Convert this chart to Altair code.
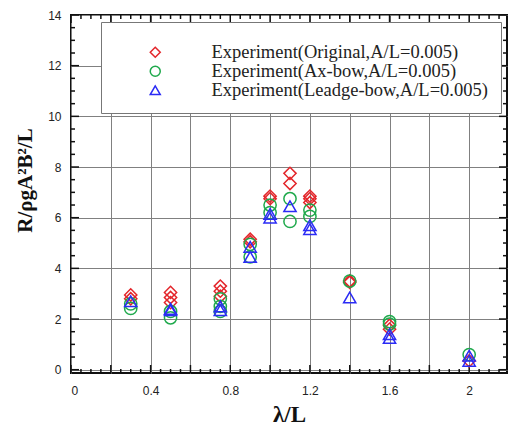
import altair as alt
import pandas as pd
import numpy as np

series_names = [
    "Experiment(Original,A/L=0.005)",
    "Experiment(Ax-bow,A/L=0.005)",
    "Experiment(Leadge-bow,A/L=0.005)",
]
series_colors = ["#e3262b", "#1fa94c", "#2b2bf5"]
series_shapes = ["diamond", "circle", "triangle-up"]

lam_orig = [0.3, 0.3, 0.5, 0.5, 0.5, 0.75, 0.75, 0.75, 0.9, 0.9, 1.0, 1.0, 1.1, 1.1, 1.2, 1.2, 1.2, 1.4, 1.4, 1.6, 1.6, 2.0]
val_orig = [2.95, 2.8, 3.05, 2.85, 2.65, 3.3, 3.1, 2.9, 5.15, 5.05, 6.85, 6.75, 7.75, 7.35, 6.85, 6.75, 6.6, 3.45, 3.5, 1.75, 1.6, 0.35]

lam_ax = [0.3, 0.3, 0.5, 0.5, 0.75, 0.75, 0.75, 0.9, 0.9, 1.0, 1.0, 1.1, 1.1, 1.2, 1.2, 1.4, 1.6, 1.6, 2.0]
val_ax = [2.6, 2.42, 2.3, 2.05, 2.8, 2.5, 2.3, 4.95, 4.45, 6.5, 6.2, 6.75, 5.85, 6.3, 6.05, 3.5, 1.9, 1.8, 0.6]

lam_lb = [0.3, 0.5, 0.5, 0.75, 0.75, 0.9, 0.9, 1.0, 1.0, 1.1, 1.2, 1.2, 1.4, 1.6, 1.6, 2.0, 2.0]
val_lb = [2.7, 2.4, 2.35, 2.5, 2.35, 4.85, 4.45, 6.15, 6.0, 6.45, 5.7, 5.55, 2.85, 1.4, 1.25, 0.55, 0.35]

x_major = [0, 0.2, 0.4, 0.6, 0.8, 1.0, 1.2, 1.4, 1.6, 1.8, 2.0]
y_major = [0, 2, 4, 6, 8, 10, 12, 14]

x_minor = [round(v, 2) for v in np.arange(0, 2.19, 0.05) if round(v * 20) % 4 != 0]
y_minor = [v for v in np.arange(0, 14.01, 0.5) if v % 2 != 0]

df = pd.concat([
    pd.DataFrame({"lam": lam_orig, "R": val_orig, "series": series_names[0]}),
    pd.DataFrame({"lam": lam_ax, "R": val_ax, "series": series_names[1]}),
    pd.DataFrame({"lam": lam_lb, "R": val_lb, "series": series_names[2]}),
], ignore_index=True)
df["order"] = range(len(df))

W, H = 436, 358
xscale = alt.Scale(domain=[0, 2.19], nice=False, zero=False)
yscale = alt.Scale(domain=[-0.13, 14], nice=False, zero=False)

legend = alt.Legend(
    orient="none", legendX=30, legendY=7,
    title=" ", titleFontSize=5, titlePadding=3,
    strokeColor="#777", fillColor="white", padding=13,
    labelFont="Liberation Serif", labelFontSize=18.5, labelColor="#222",
    labelLimit=500, symbolSize=100, symbolStrokeWidth=1.5,
    symbolOffset=32, labelOffset=47, rowPadding=0,
)

xaxis = alt.Axis(
    values=x_major, grid=True, ticks=False, domain=False,
    labelExpr="round(datum.value*10) % 4 == 0 ? toString(round(datum.value*10)/10) : ''",
    labelFont="Liberation Sans", labelFontSize=12, labelColor="#222", labelPadding=12,
    title="λ/L", titleFont="Liberation Serif", titleFontSize=23, titleFontWeight="bold",
    titleColor="#111", titleY=41, titleBaseline="middle",
)
yaxis = alt.Axis(
    values=y_major, grid=True, ticks=False, domain=False,
    labelFont="Liberation Sans", labelFontSize=12, labelColor="#222", labelPadding=10,
    title="R/ρgA²B²/L", titleFont="Liberation Serif", titleFontSize=21, titleFontWeight="bold",
    titleColor="#111", titleX=-46, titleY=165, titleBaseline="middle", titleAngle=-90,
)

points = alt.Chart(df).mark_point(filled=False, size=150, strokeWidth=1.5, opacity=1).encode(
    x=alt.X("lam:Q", scale=xscale, axis=xaxis),
    y=alt.Y("R:Q", scale=yscale, axis=yaxis),
    color=alt.Color("series:N", scale=alt.Scale(domain=series_names, range=series_colors), legend=legend),
    shape=alt.Shape("series:N", scale=alt.Scale(domain=series_names, range=series_shapes), legend=legend),
    order="order:Q",
)

def xticks(vals, y0, y1):
    return alt.Chart(pd.DataFrame({"t": vals})).mark_rule(color="#111", strokeWidth=1.5).encode(
        x=alt.X("t:Q", scale=xscale), y=alt.value(y0), y2=alt.value(y1))

def yticks(vals, x0, x1):
    return alt.Chart(pd.DataFrame({"t": vals})).mark_rule(color="#111", strokeWidth=1.5).encode(
        y=alt.Y("t:Q", scale=yscale), x=alt.value(x0), x2=alt.value(x1))

ticks = [
    xticks(x_major, H, H - 8), xticks(x_major, 0, 8),
    xticks(x_minor, H, H - 4), xticks(x_minor, 0, 4),
    yticks(y_major, 0, 8), yticks(y_major, W, W - 8),
    yticks(y_minor, 0, 4), yticks(y_minor, W, W - 4),
]

chart = alt.layer(*ticks, points).properties(
    width=W, height=H,
    autosize=alt.AutoSizeParams(type="none"),
    padding={"left": 71, "top": 15, "right": 2, "bottom": 52},
).configure_view(stroke="#111", strokeWidth=2).configure_axis(
    gridColor="#808080", gridWidth=1, gridOpacity=1
)

chart.save("out.html", embed_options={"renderer": "svg", "actions": False})
